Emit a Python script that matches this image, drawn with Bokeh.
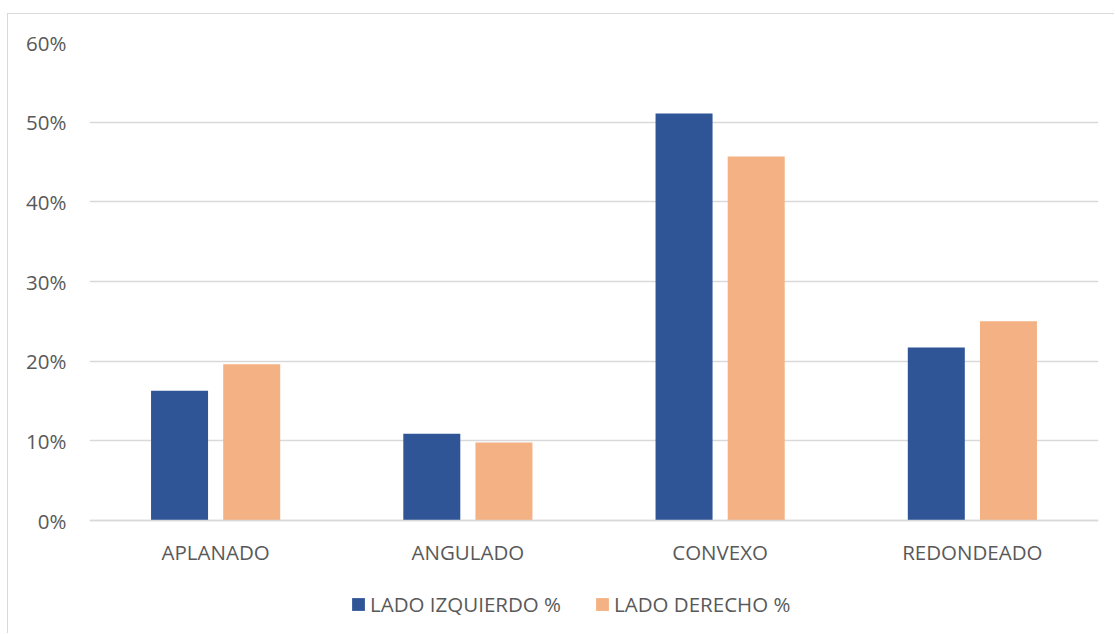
from bokeh.plotting import figure
from bokeh.models import (ColumnDataSource, FactorRange, Range1d, FixedTicker,
                          NumeralTickFormatter, Legend, LegendItem)
from bokeh.transform import dodge
from bokeh.embed import file_html
from bokeh.resources import INLINE

# Shape categories and the share of each side (fractions)
categories = ["APLANADO", "ANGULADO", "CONVEXO", "REDONDEADO"]
lado_izquierdo = [0.163, 0.109, 0.511, 0.217]
lado_derecho = [0.196, 0.098, 0.457, 0.250]
series_names = ["LADO IZQUIERDO %", "LADO DERECHO %"]
y_ticks = [0.0, 0.1, 0.2, 0.3, 0.4, 0.5, 0.6]

BLUE = "#2F5597"
ORANGE = "#F4B183"
GRID = "#D9D9D9"
TEXT = "#595959"
FONT = "Open Sans"
FONT_SIZE = "20.5px"

# Plot area: value axis spans 478 px for 0..60%, with 114 px kept under the
# baseline for the category labels and the legend.
PX_PER_UNIT = 478 / 0.6
Y_BOTTOM = -114 / PX_PER_UNIT

source = ColumnDataSource(data=dict(cat=categories, left=lado_izquierdo, right=lado_derecho))

p = figure(
    x_range=FactorRange(*categories, range_padding=0),
    y_range=Range1d(Y_BOTTOM, 0.6),
    width=1107, height=620,
    output_backend="svg", toolbar_location=None,
    min_border_left=81, min_border_top=28, min_border_right=17, min_border_bottom=0,
)
p.styles = {"margin-left": "7px", "margin-top": "13px",
            "border-left": "1px solid #D9D9D9", "border-top": "1px solid #D9D9D9"}

bar_w = 0.226
r_left = p.vbar(x=dodge("cat", -0.143, range=p.x_range), top="left", bottom=0, width=bar_w,
                source=source, fill_color=BLUE, line_color=None)
r_right = p.vbar(x=dodge("cat", 0.143, range=p.x_range), top="right", bottom=0, width=bar_w,
                 source=source, fill_color=ORANGE, line_color=None)

p.outline_line_color = None
p.background_fill_color = "white"
p.border_fill_color = "white"

# Horizontal gridlines only
p.xgrid.grid_line_color = None
p.ygrid.grid_line_color = GRID
p.ygrid.grid_line_width = 1.3
p.ygrid.ticker = FixedTicker(ticks=y_ticks)

# Y axis: percentages, no line or ticks
p.yaxis.ticker = FixedTicker(ticks=y_ticks)
p.yaxis.formatter = NumeralTickFormatter(format="0%")
p.yaxis.axis_line_color = None
p.yaxis.major_tick_line_color = None
p.yaxis.minor_tick_line_color = None
p.yaxis.major_label_standoff = 17
p.yaxis.major_label_text_font = FONT
p.yaxis.major_label_text_font_size = FONT_SIZE
p.yaxis.major_label_text_color = TEXT

# X axis pinned to the 0% baseline, category names below it
p.xaxis.fixed_location = 0
p.xaxis.axis_line_color = GRID
p.xaxis.axis_line_width = 1.3
p.xaxis.major_tick_line_color = None
p.xaxis.minor_tick_line_color = None
p.xaxis.major_label_standoff = 11
p.xaxis.major_label_text_font = FONT
p.xaxis.major_label_text_font_size = FONT_SIZE
p.xaxis.major_label_text_color = TEXT

legend = Legend(
    items=[LegendItem(label=series_names[0], renderers=[r_left]),
           LegendItem(label=series_names[1], renderers=[r_right])],
    orientation="horizontal", location=(261, 16),
    glyph_width=16, glyph_height=16, label_standoff=4, spacing=33,
    padding=0, margin=0, border_line_color=None, background_fill_alpha=0,
    label_text_font=FONT, label_text_font_size=FONT_SIZE, label_text_color=TEXT,
)
p.add_layout(legend, "center")

open("out.html", "w").write(file_html(p, INLINE))
